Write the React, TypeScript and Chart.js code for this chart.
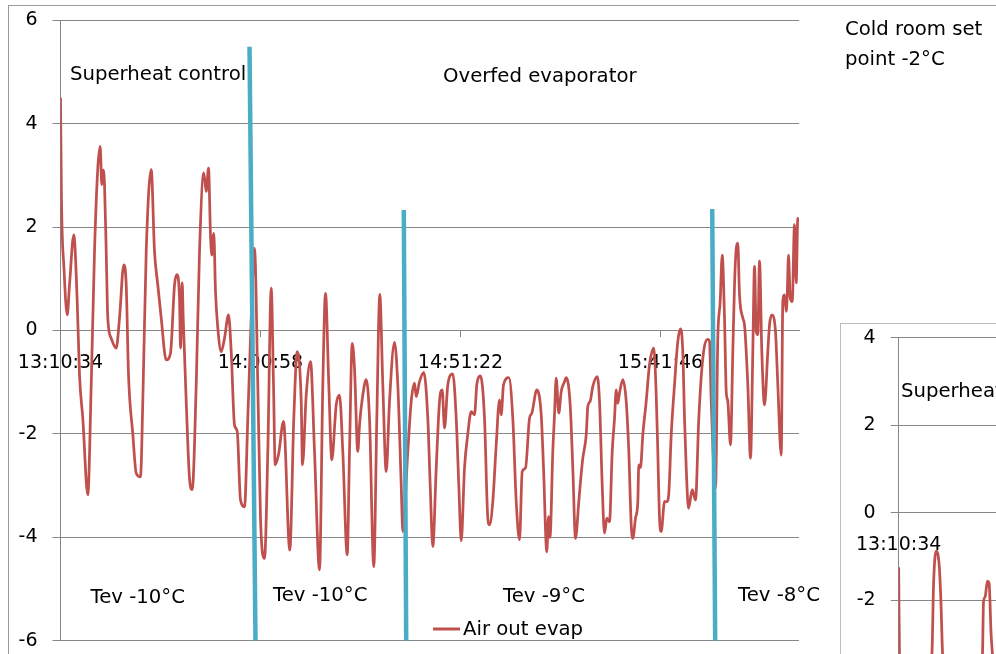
import React, { useEffect, useRef } from "react";
import { Chart, registerables } from "chart.js";

Chart.register(...registerables);

// ---- axis ticks (minutes after 13:10:34) ----
const tickMinutes = [0, 50.4, 100.8, 151.2];
const tickLabels = ["13:10:34", "14:00:58", "14:51:22", "15:41:46"];

// ---- main series: Air out evap (°C) against minutes since 13:10:34 ----
const timeMin = [
  0, 0.25, 0.88, 1.69, 2.27, 3.35, 4.21, 4.79, 5.62, 6.88, 7.74, 8.57, 9.4, 10.0, 10.41, 10.76, 11.09,
  11.52, 11.92, 12.78, 14.04, 14.87, 15.95, 16.56, 17.14, 18.22, 19.08, 20.16, 20.74, 21.6, 22.86,
  23.69, 24.52, 25.38, 26.64, 27.72, 28.73, 29.31, 29.99, 30.24, 30.67, 30.92, 31.68, 32.51, 33.19,
  34.2, 35.03, 36.11, 36.72, 37.3, 37.8, 38.13, 38.63, 39.06, 39.64, 40.5, 41.33, 42.34, 43.02, 43.85,
  44.53, 45.36, 46.37, 47.2, 48.06, 48.89, 49.72, 50.4, 51.41, 52.24, 53.1, 53.68, 54.1, 54.94, 56.2,
  57.78, 58.79, 59.65, 60.66, 60.98, 61.92, 63.0, 64.01, 65.27, 66.1, 66.78, 67.61, 68.37, 69.48,
  70.31, 71.14, 72.25, 72.83, 73.51, 74.09, 74.92, 75.35, 76.18, 77.04, 77.87, 78.95, 79.71, 80.46,
  81.22, 82.08, 82.91, 84.17, 85.0, 85.86, 86.26, 87.52, 88.38, 89.21, 89.64, 90.47, 91.55, 92.56,
  93.16, 93.82, 94.68, 95.51, 96.19, 96.77, 97.6, 98.86, 99.72, 100.37, 100.98, 101.81, 102.64,
  103.5, 104.33, 104.91, 105.84, 106.85, 107.68, 108.11, 108.94, 109.8, 110.63, 111.06, 111.64,
  112.97, 113.98, 114.84, 115.67, 116.35, 117.18, 118.19, 118.77, 120.03, 121.14, 121.72, 122.55,
  122.98, 123.35, 124.06, 124.49, 124.91, 125.57, 126.18, 127.01, 127.44, 128.44, 129.1, 129.78,
  130.61, 130.96, 131.62, 132.48, 132.88, 133.48, 134.14, 135.25, 135.83, 136.51, 137.09, 137.67,
  138.35, 139.03, 139.61, 140.04, 140.44, 140.87, 141.7, 142.56, 143.21, 143.82, 144.22, 144.9,
  145.48, 145.73, 146.16, 146.74, 147.6, 148.43, 149.51, 150.12, 150.52, 150.95, 151.38, 152.21,
  152.79, 153.29, 153.9, 154.73, 155.56, 156.24, 156.82, 157.25, 157.68, 158.26, 159.19, 160.02,
  160.85, 161.86, 163.12, 163.55, 163.98, 165.06, 165.64, 166.24, 166.75, 167.33, 167.76, 168.16,
  168.84, 169.42, 169.85, 170.28, 170.68, 171.11, 171.94, 172.37, 173.2, 173.88, 174.46, 174.89,
  175.32, 175.72, 176.15, 176.73, 177.41, 178.24, 178.67, 179.25, 180.18, 180.76, 181.62, 182.02,
  182.45, 182.88, 183.13, 183.46, 183.88, 184.39, 184.97, 185.4, 185.8, 186.1,
];
const airOutEvap = [
  4.5, 2.5, 1.2, 0.3, 0.88, 1.85, 0.56, -0.86, -1.7, -3.18, -1.05, 1.53, 3.14, 3.56, 2.82, 3.1, 2.82,
  1.53, 0.24, -0.15, -0.34, 0.24, 1.27, 0.88, -0.86, -2.0, -2.76, -2.83, -1.37, 1.53, 3.11,
  1.53, 0.88, 0.24, -0.57, -0.44, 0.88, 1.08, 0.63, -0.34, 0.92, 0.24, -1.37, -2.86, -3.08,
  -1.05, 1.53, 3.05, 2.69, 3.14, 1.85, 1.46, 1.88, 0.75, 0.05, -0.41, -0.15, 0.3, -0.41, -1.83,
  -1.95, -3.28, -3.41, -1.7, 0.24, 1.59, -1.05, -3.63, -4.41, -2.34, 0.82, -1.05, -2.6, -2.4, -1.76,
  -4.25, -1.7, -0.41, -1.37, -2.6, -1.25, -0.6, -2.34, -4.63, -1.05, 0.72, -1.05, -2.5, -1.44,
  -1.25, -2.34, -4.34, -2.34, -0.25, -0.73, -2.34, -1.83, -1.25, -0.95, -1.7, -4.57, -1.7, 0.7,
  -1.05, -2.73, -1.37, -0.23, -1.05, -2.99, -3.89, -2.34, -1.37, -1.02, -1.28, -0.99, -0.81, -1.7,
  -2.99, -4.18, -2.66, -1.37, -1.15, -1.89, -1.05, -0.84, -1.7, -2.99, -4.07, -2.66, -2.0,
  -1.57, -1.63, -1.05, -0.88, -1.7, -3.63, -3.76, -3.31, -2.21, -1.34, -1.63, -1.05,
  -0.91, -1.7, -3.31, -4.05, -2.73, -2.66, -1.7, -1.6, -1.15, -1.63, -2.66, -4.28,
  -3.6, -4.0, -2.34, -1.63, -0.92, -1.6, -1.18, -0.99, -0.91, -1.44, -2.66, -4.02,
  -3.31, -2.99, -2.47, -2.02, -1.47, -1.37, -1.08, -0.89, -1.37, -2.99, -3.92, -3.63,
  -3.7, -2.34, -1.7, -1.15, -1.41, -1.21, -0.95, -1.37, -2.34, -3.76, -4.02, -3.63,
  -3.31, -2.6, -2.65, -2.02, -1.37, -0.66, -0.34, -1.25, -2.34, -3.63, -3.89, -3.31,
  -3.31, -3.15, -2.02, -1.05, -0.21, 0.03, -0.41, -1.7, -2.66, -3.44, -3.08, -3.28,
  -1.7, -0.54, -0.17, -0.21, -1.37, -3.05, -0.15, 0.56, 1.46, 0.24, -1.18, -1.37,
  -2.21, -0.41, 0.88, 1.59, 1.69, 0.69, 0.24, 0.11, -1.05, -2.47, -0.41, 1.24,
  -0.02, -0.08, 1.34, -0.41, -1.44, -0.41, 0.11, 0.3, -0.02, -1.05, -2.41, 0.56,
  0.69, 0.37, 0.69, 1.46, 0.63, 0.56, 2.05, 0.92, 2.17, 2.1,
];

// ---- phase divider lines (blue) ----
const dividerTopTime = [47.63, 86.51, 164.23];
const dividerTopValue = [5.49, 2.33, 2.35];
const dividerBottomTime = [49.14, 87.12, 164.98];
const dividerBottomValue = [-6, -6, -6];

// ---- second (partly visible) chart ----
const insetTimeMin = [0, 0.3, 4, 8.39, 8.82, 9.47, 10.23, 10.66, 11.09, 13, 18, 21.16, 21.42, 21.82, 22.42, 22.83, 23.33, 23.68, 25];
const insetValues = [-1.24, -4.0, -4.6, -3.22, -1.6, -0.87, -1.19, -1.99, -3.22, -4.3, -4.5, -3.22, -2.03, -1.92, -1.56, -1.6, -2.75, -3.22, -4.4];

const FONT = "'DejaVu Sans', 'Liberation Sans', sans-serif";
const RED = "#C0504D";
const BLUE = "#4BACC6";
const GRID = "#878787";

type TextItem = { text: string; x: number; y: number };

const mainTexts: TextItem[] = [
  { text: "Superheat control", x: 70, y: 80 },
  { text: "Overfed evaporator", x: 443, y: 82 },
  { text: "Cold room set", x: 845, y: 35 },
  { text: "point -2°C", x: 845, y: 65 },
  { text: "Tev -10°C", x: 90.5, y: 603 },
  { text: "Tev -10°C", x: 273, y: 600.5 },
  { text: "Tev -9°C", x: 503, y: 601.5 },
  { text: "Tev -8°C", x: 738, y: 601 },
];

const insetTexts: TextItem[] = [{ text: "Superheat control", x: 60, y: 73.3 }];

function overlayPlugin(texts: TextItem[], legend?: { x0: number; x1: number; y: number; label: string; tx: number; ty: number }) {
  return {
    id: "overlayText",
    afterDraw(chart: any) {
      const ctx = chart.ctx as CanvasRenderingContext2D;
      ctx.save();
      ctx.font = `19.7px ${FONT}`;
      ctx.fillStyle = "#000";
      ctx.textAlign = "left";
      ctx.textBaseline = "alphabetic";
      for (const t of texts) ctx.fillText(t.text, t.x, t.y);
      if (legend) {
        ctx.strokeStyle = RED;
        ctx.lineWidth = 3;
        ctx.beginPath();
        ctx.moveTo(legend.x0, legend.y);
        ctx.lineTo(legend.x1, legend.y);
        ctx.stroke();
        ctx.fillText(legend.label, legend.tx, legend.ty);
      }
      ctx.restore();
    },
  };
}

function axisTicks(size: number) {
  return { color: "#000", font: { family: FONT, size } };
}

function timeAxis() {
  return {
    type: "linear",
    min: 0,
    max: 186.1,
    position: { y: 0 },
    afterFit: (s: any) => {
      s.height = 0;
    },
    afterBuildTicks: (s: any) => {
      s.ticks = tickMinutes.map((v) => ({ value: v }));
    },
    ticks: {
      ...axisTicks(19),
      autoSkip: false,
      maxRotation: 0,
      padding: 15,
      callback: (_v: any, i: number) => tickLabels[i] ?? "",
    },
    grid: { drawOnChartArea: false, drawTicks: true, tickLength: 6, color: GRID },
    border: { display: true, color: GRID },
  };
}

function valueAxis(min: number, max: number, width: number) {
  return {
    type: "linear",
    min,
    max,
    afterFit: (s: any) => {
      s.width = width;
      s.paddingTop = 0;
      s.paddingBottom = 0;
    },
    ticks: { ...axisTicks(19), stepSize: 2, padding: 15 },
    grid: { color: GRID, tickLength: 8 },
    border: { display: true, color: GRID },
  };
}

export default function App() {
  const mainRef = useRef<HTMLCanvasElement | null>(null);
  const insetRef = useRef<HTMLCanvasElement | null>(null);

  useEffect(() => {
    const dividers = dividerTopTime.map((t, i) => ({
      label: "divider" + i,
      data: [
        { x: t, y: dividerTopValue[i] },
        { x: dividerBottomTime[i], y: dividerBottomValue[i] },
      ],
      borderColor: BLUE,
      backgroundColor: BLUE,
      borderWidth: 4.5,
      pointRadius: 0,
      tension: 0,
    }));

    const main = new Chart(mainRef.current as HTMLCanvasElement, {
      type: "line",
      data: {
        datasets: [
          ...dividers,
          {
            label: "Air out evap",
            data: timeMin.map((t, i) => ({ x: t, y: airOutEvap[i] })),
            borderColor: RED,
            backgroundColor: RED,
            borderWidth: 2.75,
            pointRadius: 0,
            cubicInterpolationMode: "monotone",
          },
        ] as any,
      },
      options: {
        responsive: false,
        animation: false,
        events: [],
        layout: { padding: { left: 0, right: 197, top: 20.3, bottom: 13.3 } },
        plugins: { legend: { display: false }, tooltip: { enabled: false } },
        scales: {
          x: timeAxis(),
          y: valueAxis(-6, 6, 60.5),
        },
      } as any,
      plugins: [
        overlayPlugin(mainTexts, { x0: 433, x1: 460, y: 629, label: "Air out evap", tx: 463, ty: 635 }),
      ],
    });

    const inset = new Chart(insetRef.current as HTMLCanvasElement, {
      type: "line",
      data: {
        datasets: [
          {
            label: "inset",
            data: insetTimeMin.map((t, i) => ({ x: t, y: insetValues[i] })),
            borderColor: RED,
            backgroundColor: RED,
            borderWidth: 2.75,
            pointRadius: 0,
            cubicInterpolationMode: "monotone",
          },
        ] as any,
      },
      options: {
        responsive: false,
        animation: false,
        events: [],
        layout: { padding: { left: 0, right: 20.3, top: 13.7, bottom: 18.3 } },
        plugins: { legend: { display: false }, tooltip: { enabled: false } },
        scales: {
          x: timeAxis(),
          y: valueAxis(-6, 4, 55.7),
        },
      } as any,
      plugins: [overlayPlugin(insetTexts)],
    });

    return () => {
      main.destroy();
      inset.destroy();
    };
  }, []);

  return (
    <div
      style={{
        position: "fixed",
        left: 0,
        top: 0,
        width: 996,
        height: 654,
        overflow: "hidden",
        background: "#fff",
      }}
    >
      <div
        style={{
          position: "absolute",
          left: 8,
          top: 5,
          width: 1000,
          height: 700,
          borderTop: "1px solid #9a9a9a",
          borderLeft: "1px solid #9a9a9a",
        }}
      />
      <canvas
        ref={mainRef}
        width={996}
        height={654}
        style={{ position: "absolute", left: 0, top: 0, width: 996, height: 654 }}
      />
      <div
        style={{
          position: "absolute",
          left: 840,
          top: 323,
          width: 900,
          height: 500,
          borderTop: "1px solid #bdbdbd",
          borderLeft: "1px solid #bdbdbd",
          background: "#fff",
          overflow: "hidden",
        }}
      >
        <canvas
          ref={insetRef}
          width={815}
          height={470}
          style={{ position: "absolute", left: 0, top: 0, width: 815, height: 470 }}
        />
      </div>
    </div>
  );
}
